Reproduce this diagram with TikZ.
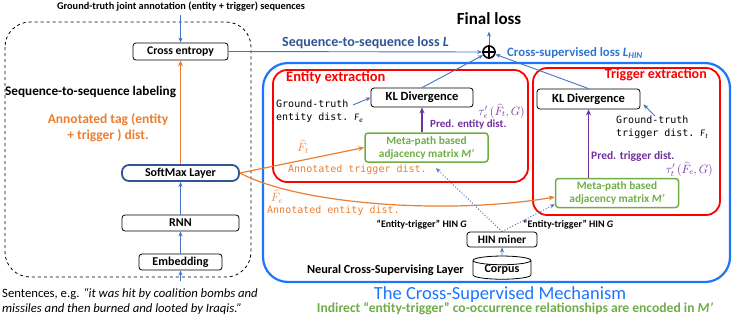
\documentclass[tikz,border=0pt]{standalone}
\usepackage{fontspec}
\setmainfont{Carlito}
\setmonofont{DejaVu Sans Mono}
\usetikzlibrary{arrows.meta, shapes.geometric}

\definecolor{darkblue}{HTML}{2F5597}
\definecolor{arrowblue}{HTML}{4472C4}
\definecolor{brightblue}{HTML}{1A75FF}
\definecolor{lossblue}{HTML}{2E75D6}
\definecolor{orangeline}{HTML}{ED7D31}
\definecolor{greenbox}{HTML}{70AD47}
\definecolor{purpleline}{HTML}{7030A0}

\newcommand{\fsz}[1]{\fontsize{#1}{#1}\selectfont}

\tikzset{
  layerbox/.style={draw, rounded corners=3pt, line width=0.8pt, inner sep=0pt,
    font=\bfseries\fsz{12}, minimum height=16pt},
  metabox/.style={draw=greenbox, line width=1.5pt, rounded corners=3pt, inner sep=0pt,
    text=greenbox, align=center, font=\bfseries\fontsize{11.3}{13}\selectfont,
    minimum width=123pt, minimum height=29pt},
  monotext/.style={font=\ttfamily\fontsize{10}{13}\selectfont, align=left, inner sep=0pt},
  bluearrow/.style={-{Stealth[length=5pt, width=4pt]}, arrowblue, line width=0.9pt},
  orangearrow/.style={-{Stealth[length=6pt, width=5pt]}, orangeline, line width=1.2pt},
  purplearrow/.style={-{Stealth[length=6pt, width=5pt]}, purpleline, line width=1.2pt},
}

\begin{document}
\begin{tikzpicture}[x=1pt, y=-1pt]
  \useasboundingbox (0,0) rectangle (733,319);

  \coordinate (sentin) at (180.5,281);
  \coordinate (gtentend) at (353,105);
  \coordinate (gttrigtop) at (655,116);

  % left part: sequence labeling
  \draw[dashed, line width=0.8pt, rounded corners=25pt] (5,22) rectangle (251,277);
  \node[font=\bfseries\fsz{10.3}] (gt) at (181,7) {Ground-truth joint annotation (entity + trigger) sequences};
  \node[layerbox, minimum width=95pt, minimum height=17pt, font=\bfseries\fsz{11.7}] (ce) at (180.5,51.5) {Cross entropy};
  \node[layerbox, draw=darkblue, line width=1.8pt, rounded corners=7pt, minimum width=117pt] (softmax) at (180.5,173) {SoftMax Layer};
  \node[layerbox, minimum width=117pt] (rnn) at (180.5,223) {RNN};
  \node[layerbox, minimum width=83pt] (emb) at (180.5,262) {Embedding};

  \node[font=\bfseries\fsz{13.2}, anchor=west, inner sep=0pt] (seqlab) at (5,92) {Sequence-to-sequence labeling};
  \node[text=orangeline, font=\bfseries\fontsize{13.5}{16}\selectfont, align=center] (tagdist) at (108,128) {Annotated tag (entity\\+ trigger ) dist.};
  \node[anchor=base west, align=left, inner sep=0pt, font=\fontsize{12.7}{15}\selectfont] (sent) at (2,312)
    {Sentences, e.g. \textit{“it was hit by coalition bombs and}\\\textit{missiles and then burned and looted by Iraqis.”}};

  \draw[bluearrow] (ce.north |- gt.south) -- (ce.north);
  \draw[orangearrow] (softmax.north) -- (ce.south);
  \draw[bluearrow] (rnn.north) -- (softmax.south);
  \draw[bluearrow] (emb.north) -- (rnn.south);
  \draw[bluearrow] (sentin) -- (emb.south);

  % losses
  \node[draw, circle, line width=1.6pt, minimum size=12pt, inner sep=0pt] (plus) at (489,52) {};
  \draw[line width=1.4pt] (plus.north) -- (plus.south) (plus.west) -- (plus.east);
  \node[font=\bfseries\fsz{17}] (final) at (489,19) {Final loss};
  \draw[bluearrow, shorten >=3pt] (plus.north) -- (final.south);
  \draw[bluearrow] (ce.east) -- (plus.west);
  \node[text=darkblue, font=\bfseries\fsz{14}, anchor=west, inner sep=0pt] (seqloss) at (282,43) {Sequence-to-sequence loss \textit{L}};
  \node[text=lossblue, font=\bfseries\fsz{12.8}, anchor=west, inner sep=0pt] (crossloss) at (507,53)
    {Cross-supervised loss \textit{L}\textsubscript{\textit{HIN}}};

  % right part: cross-supervised mechanism
  \draw[brightblue, line width=2.2pt, rounded corners=25pt] (263,63) rectangle (730,282);
  \draw[red, line width=1.8pt, rounded corners=14pt] (273,70) rectangle (528,182);
  \draw[red, line width=1.8pt, rounded corners=14pt] (533,68) rectangle (720,215);
  \node[text=red, font=\bfseries\fsz{14.5}, anchor=west, inner sep=0pt] (entext) at (286,78) {Entity extraction};
  \node[text=red, font=\bfseries\fsz{14}, anchor=east, inner sep=0pt] (trigext) at (707,75) {Trigger extraction};

  \node[layerbox, minimum width=102pt, minimum height=19pt, font=\bfseries\fsz{12.5}] (klent) at (422,97.5) {KL Divergence};
  \node[layerbox, minimum width=103pt, minimum height=20pt, font=\bfseries\fsz{12.5}] (kltrig) at (588.5,99) {KL Divergence};
  \draw[bluearrow] (klent.north) -- (plus);
  \draw[bluearrow] (kltrig.north) -- (plus);

  \node[monotext, anchor=north west] (gtent) at (276,100) {Ground-truth\\entity dist. \textrm{\textit{F}\textsubscript{\textit{e}}}};
  \node[monotext, anchor=north west] (gttrig) at (616,116) {Ground-truth\\trigger dist. \textrm{\textit{F}\textsubscript{\textit{t}}}};
  \draw[bluearrow] (gtentend) -- (klent.west);
  \draw[bluearrow] (gttrigtop) -- ([shift={(3pt,5pt)}]kltrig.south east);

  \node[metabox] (metaent) at (426.5,147.5) {Meta-path based\\adjacency matrix \textit{M’}};
  \node[metabox] (metatrig) at (617,193) {Meta-path based\\adjacency matrix \textit{M’}};
  \draw[purplearrow] (klent.south |- metaent.north) -- (klent.south);
  \draw[purplearrow] (kltrig.south |- metatrig.north) -- (kltrig.south);

  \node[text=purpleline, font=\bfseries\fsz{11}, anchor=west, inner sep=0pt] (predent) at (430,124.5) {Pred. entity dist.};
  \node[text=purpleline, anchor=east, inner sep=0pt, font=\fsz{12}] (tauent) at (525,111) {$\tau'_e\,(\widehat{F}_t,G)$};
  \node[text=purpleline, font=\bfseries\fsz{11.5}, anchor=west, inner sep=0pt] (predtrig) at (591,156) {Pred. trigger dist.};
  \node[text=purpleline, anchor=east, inner sep=0pt, font=\fsz{12}] (tautrig) at (713,169) {$\tau'_t\,(\widehat{F}_e,G)$};

  % annotated distributions from softmax
  \draw[orangearrow] (softmax.east) -- (metaent.west);
  \draw[orangearrow] (softmax.east) .. controls (300,205) and (450,215) .. ([yshift=-4pt]metatrig.west);
  \node[text=orangeline, font=\fsz{12}, inner sep=0pt] (fthat) at (303,147) {$\widehat{F}_t$};
  \node[text=orangeline, font=\fsz{12}, inner sep=0pt] (fehat) at (277,197) {$\widehat{F}_e$};
  \node[monotext, text=orangeline, anchor=west] (anntrig) at (288,170) {Annotated trigger dist.};
  \node[monotext, text=orangeline, anchor=west] (annent) at (267,211) {Annotated entity dist.};

  % HIN miner and corpus
  \node[layerbox, minimum width=70pt, minimum height=15pt, font=\bfseries\fsz{11.4}] (hin) at (502,239.5) {HIN miner};
  \node[draw, cylinder, shape border rotate=90, aspect=0.25, line width=0.8pt, inner sep=0pt,
    minimum width=58pt, minimum height=23pt, font=\bfseries\fsz{12}] (corpus) at (502,270) {Corpus};
  \draw[bluearrow] (corpus.north) -- (hin.south);
  \draw[bluearrow, dotted, line width=1.1pt, shorten >=2pt] (hin.north) -- ([xshift=8pt,yshift=-4pt]metaent.south);
  \draw[bluearrow, dotted, line width=1.1pt] (hin.north) -- ([yshift=4pt]metatrig.south west);
  \node[font=\bfseries\fsz{10}, anchor=east, inner sep=0pt] (hinl) at (467,225) {“Entity-trigger” HIN \textit{G}};
  \node[font=\bfseries\fsz{10}, anchor=west, inner sep=0pt] (hinr) at (523,225) {“Entity-trigger” HIN \textit{G}};

  \node[font=\bfseries\fsz{12.3}, anchor=east, inner sep=0pt] (ncsl) at (464,270) {Neural Cross-Supervising Layer};
  \node[text=brightblue, font=\fsz{18.5}, inner sep=0pt] (mech) at (500,295) {The Cross-Supervised Mechanism};
  \node[text=greenbox, font=\bfseries\fsz{13.6}, inner sep=0pt] (indirect) at (515,309)
    {Indirect “entity-trigger” co-occurrence relationships are encoded in \textit{M’}};
\end{tikzpicture}
\end{document}
